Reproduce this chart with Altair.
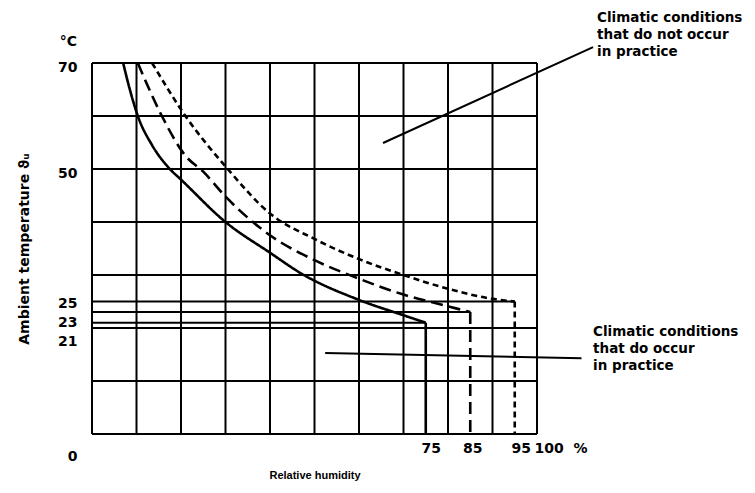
import altair as alt
import pandas as pd

# ---- data ----
rh_grid = [0, 10, 20, 30, 40, 50, 60, 70, 80, 90, 100]
temp_grid = [0, 10, 20, 30, 40, 50, 60, 70]

solid_rh = [7, 8.5, 10.3, 13.5, 17.5, 20, 30, 40, 47, 60, 70, 75]
solid_t = [70, 65, 60, 54.5, 50, 48, 40, 34.2, 30.3, 25.3, 22.4, 21]

long_rh = [10.3, 15.7, 21, 25, 30, 40, 50, 60, 70, 80, 85]
long_t = [70, 60, 52.5, 49.5, 44.8, 37.5, 32.8, 29.3, 26.3, 24.1, 23]

short_rh = [13.5, 21, 30.5, 40, 50, 60, 70, 80, 90, 95]
short_t = [70, 60, 50, 41.6, 36.8, 33, 30, 27.4, 25.5, 25]

limit_rh = [75, 85, 95]
limit_t = [21, 23, 25]
limit_style = ["solid", "long", "short"]

y_label_values = [0, 21, 23, 25, 50, 70]
x_label_values = [75, 85, 95, 100]

note_top = ["Climatic conditions", "that do not occur", "in practice"]
note_bottom = ["Climatic conditions", "that do occur", "in practice"]

FONT = "DejaVu Sans"

curves = pd.concat([
    pd.DataFrame({"rh": solid_rh, "t": solid_t, "style": "solid"}),
    pd.DataFrame({"rh": long_rh, "t": long_t, "style": "long"}),
    pd.DataFrame({"rh": short_rh, "t": short_t, "style": "short"}),
])
limits = pd.DataFrame({"rh": limit_rh, "t": limit_t, "style": limit_style,
                       "zero": [0, 0, 0]})
vgrid = pd.DataFrame({"rh": rh_grid, "t": [0] * len(rh_grid), "t2": [70] * len(rh_grid)})
hgrid = pd.DataFrame({"t": temp_grid, "rh": [0] * len(temp_grid), "rh2": [100] * len(temp_grid)})

dash_scale = alt.Scale(domain=["solid", "long", "short"],
                       range=[[1, 0], [12, 6], [6, 4]])

x_scale = alt.Scale(domain=[0, 100], nice=False, zero=False)
y_scale = alt.Scale(domain=[0, 70], nice=False, zero=False)

x_axis = alt.Axis(
    values=x_label_values, grid=False, ticks=False, domain=False,
    labelExpr="datum.value == 100 ? '100\u00a0\u00a0%' : datum.label",
    labelAlign={"expr": "datum.value == 100 ? 'left' : 'center'"},
    labelOffset={"expr": "datum.value == 100 ? -3 : (datum.value == 95 ? 6 : (datum.value == 85 ? 2 : 5))"},
    labelFont=FONT, labelFontWeight="bold", labelFontSize=14, labelColor="black",
    labelPadding=7, labelFlush=False, labelOverlap=False, labelBound=False,
    titleFont="Liberation Sans", titleFontWeight="bold", titleFontSize=11,
    titleColor="black", titlePadding=14,
)
y_axis = alt.Axis(
    values=y_label_values, grid=False, ticks=False, domain=False,
    labelOffset={"expr": "datum.value == 0 ? 22 : (datum.value == 21 ? 19 : (datum.value == 23 ? 10 : (datum.value == 25 ? 2 : 4)))"},
    labelFont=FONT, labelFontWeight="bold", labelFontSize=14, labelColor="black",
    labelPadding=15, labelFlush=False, labelOverlap=False, labelBound=False,
    titleFont=FONT, titleFontWeight="bold", titleFontSize=14,
    titleColor="black", titlePadding=26,
)

X_TITLE = "Relative humidity"
Y_TITLE = "Ambient temperature ϑᵤ"


def X(field):
    return alt.X(field, type="quantitative", scale=x_scale, axis=x_axis, title=X_TITLE)


def Y(field):
    return alt.Y(field, type="quantitative", scale=y_scale, axis=y_axis, title=Y_TITLE)


vgrid_layer = alt.Chart(vgrid).mark_rule(color="black", strokeWidth=2).encode(
    x=X("rh"), y=Y("t"), y2="t2:Q")
hgrid_layer = alt.Chart(hgrid).mark_rule(color="black", strokeWidth=2).encode(
    x=X("rh"), x2="rh2:Q", y=Y("t"))

curve_layer = alt.Chart(curves).mark_line(
    color="black", strokeWidth=2.6, interpolate="monotone"
).encode(
    x=X("rh"), y=Y("t"),
    strokeDash=alt.StrokeDash("style:N", scale=dash_scale, legend=None),
    detail="style:N",
)

drops = alt.Chart(limits).mark_rule(color="black", strokeWidth=2.6).encode(
    x=X("rh"), y=Y("t"), y2="zero:Q",
    strokeDash=alt.StrokeDash("style:N", scale=dash_scale, legend=None),
)

levels = alt.Chart(limits).mark_rule(color="black", strokeWidth=2).encode(
    x=X("zero"), x2="rh:Q", y=Y("t"),
)

# annotation leaders (data coordinates)
leaders = pd.DataFrame({"rh": [65.4, 52.4], "t": [54.9, 15.3],
                        "rh2": [112.6, 110.0], "t2": [73.0, 14.3]})
leader_layer = alt.Chart(leaders).mark_rule(color="black", strokeWidth=2).encode(
    x=X("rh"), y=Y("t"), x2="rh2:Q", y2="t2:Q",
)

notes = pd.DataFrame({"rh": [113.5, 112.6], "t": [79.9, 20.6],
                      "text": [note_top, note_bottom]})
note_layer = alt.Chart(notes).mark_text(
    align="left", baseline="top", font=FONT, fontWeight="bold", fontSize=13.5,
    lineHeight=17, color="black",
).encode(x=X("rh"), y=Y("t"), text="text")

unit = pd.DataFrame({"rh": [0], "t": [70], "text": ["°C"]})
unit_layer = alt.Chart(unit).mark_text(
    align="right", baseline="middle", font=FONT, fontWeight="bold", fontSize=14,
    color="black", dx=-15, dy=-21,
).encode(x=X("rh"), y=Y("t"), text="text")

chart = alt.layer(
    vgrid_layer, hgrid_layer, levels, curve_layer, drops, leader_layer,
    note_layer, unit_layer
).properties(
    width=445, height=371,
    autosize=alt.AutoSizeParams(type="none"),
    padding={"left": 84, "top": 55, "right": 210, "bottom": 50},
    background="white",
).configure_view(stroke=None)

chart.save("out.html", embed_options={"renderer": "svg", "actions": False})
